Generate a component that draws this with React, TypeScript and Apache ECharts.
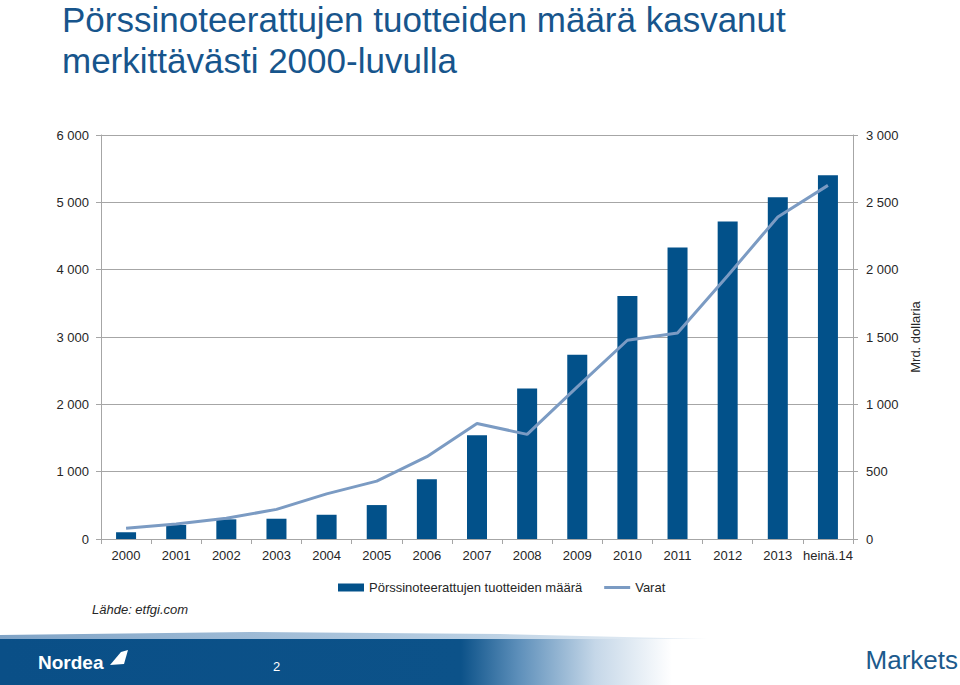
import React, { useEffect, useRef } from "react";
import * as echarts from "echarts";

const categories = ["2000", "2001", "2002", "2003", "2004", "2005", "2006", "2007", "2008", "2009", "2010", "2011", "2012", "2013", "heinä.14"];
const productCounts = [100, 208, 292, 301, 360, 504, 886, 1539, 2236, 2735, 3610, 4328, 4714, 5074, 5401];
const assets = [80, 111, 154, 220, 335, 430, 611, 858, 777, 1130, 1476, 1530, 1955, 2391, 2626];
const titleLines = ["Pörssinoteerattujen tuotteiden määrä kasvanut", "merkittävästi 2000-luvulla"];
const seriesNames = ["Pörssinoteerattujen tuotteiden määrä", "Varat"];
const rightAxisName = "Mrd. dollaria";
const sourceText = "Lähde: etfgi.com";

const fmt = (v: number) => String(v).replace(/\B(?=(\d{3})+(?!\d))/g, " ");

export default function App() {
  const ref = useRef<HTMLDivElement>(null);
  useEffect(() => {
    if (!ref.current) return;
    const chart = echarts.init(ref.current, null, { renderer: "svg" });
    const font = "'Liberation Sans', Arial, sans-serif";
    const labelColor = "#262626";
    const gridColor = "#a6a6a6";
    chart.setOption({
      animation: false,
      textStyle: { fontFamily: font },
      grid: { left: 101, right: 107, top: 135, bottom: 146, containLabel: false },
      legend: {
        left: 333,
        top: 576,
        itemWidth: 26,
        itemHeight: 8,
        itemGap: 22,
        textStyle: { fontSize: 13, color: labelColor, fontFamily: font },
        data: [
          { name: seriesNames[0], icon: "rect" },
          { name: seriesNames[1], icon: "path://M0 0H26V3H0Z" },
        ],
      },
      xAxis: {
        type: "category",
        data: categories,
        axisLine: { show: true, lineStyle: { color: gridColor } },
        axisTick: { show: true, length: 5, lineStyle: { color: gridColor } },
        axisLabel: { color: labelColor, fontSize: 13, margin: 10, interval: 0 },
      },
      yAxis: [
        {
          type: "value",
          min: 0,
          max: 6000,
          interval: 1000,
          axisLine: { show: true, lineStyle: { color: gridColor } },
          axisTick: { show: true, length: 5, lineStyle: { color: gridColor } },
          axisLabel: { color: labelColor, fontSize: 13, margin: 12, formatter: fmt },
          splitLine: { show: true, lineStyle: { color: gridColor, width: 1 } },
        },
        {
          type: "value",
          min: 0,
          max: 3000,
          interval: 500,
          position: "right",
          axisLine: { show: true, lineStyle: { color: gridColor } },
          axisTick: { show: true, length: 5, lineStyle: { color: gridColor } },
          axisLabel: { color: labelColor, fontSize: 13, margin: 13, formatter: fmt },
          splitLine: { show: false },
          name: rightAxisName,
          nameLocation: "middle",
          nameRotate: 90,
          nameGap: 48,
          nameTextStyle: { color: labelColor, fontSize: 13 },
        },
      ],
      series: [
        {
          name: seriesNames[0],
          type: "bar",
          data: productCounts,
          yAxisIndex: 0,
          barWidth: 20,
          itemStyle: { color: "#02518a" },
        },
        {
          name: seriesNames[1],
          type: "line",
          data: assets,
          yAxisIndex: 1,
          symbol: "none",
          lineStyle: { color: "#7b9bc3", width: 3 },
          itemStyle: { color: "#7b9bc3" },
        },
      ],
      graphic: [
        {
          type: "text",
          left: 62,
          top: 2,
          style: { text: titleLines[0], fill: "#17558c", font: `35px ${font}` },
        },
        {
          type: "text",
          left: 62,
          top: 43,
          style: { text: titleLines[1], fill: "#17558c", font: `35px ${font}` },
        },
        {
          type: "text",
          left: 92,
          top: 603,
          style: { text: sourceText, fill: labelColor, font: `italic 13px ${font}` },
        },
        {
          type: "polygon",
          shape: { points: [[0, 635], [250, 632], [500, 634], [750, 640], [960, 648], [960, 652], [0, 641]] },
          style: {
            fill: new echarts.graphic.LinearGradient(0, 0, 1, 0, [
              { offset: 0, color: "#7fa3c6" },
              { offset: 0.5, color: "#b9cfe3" },
              { offset: 1, color: "rgba(255,255,255,0)" },
            ]),
          },
          silent: true,
        },
        {
          type: "rect",
          shape: { x: 0, y: 639, width: 960, height: 46 },
          style: {
            fill: new echarts.graphic.LinearGradient(0, 0, 1, 0, [
              { offset: 0, color: "#0a4f87" },
              { offset: 0.48, color: "#0c5289" },
              { offset: 0.54, color: "#5d8fba" },
              { offset: 0.62, color: "#c5d7e8" },
              { offset: 0.7, color: "#ffffff" },
              { offset: 1, color: "#ffffff" },
            ]),
          },
          silent: true,
        },
        {
          type: "text",
          left: 38,
          top: 653,
          style: { text: "Nordea", fill: "#ffffff", font: `bold 19px ${font}` },
        },
        {
          type: "polygon",
          shape: { points: [[110, 665], [121, 652], [128, 650], [124, 664]] },
          style: { fill: "#ffffff" },
        },
        {
          type: "text",
          left: 273,
          top: 660,
          style: { text: "2", fill: "#ffffff", font: `13px ${font}` },
        },
        {
          type: "text",
          right: 2,
          top: 647,
          style: { text: "Markets", fill: "#1c5a8c", font: `26px ${font}` },
        },
      ],
    });
    return () => chart.dispose();
  }, []);
  return (
    <div
      ref={ref}
      style={{ position: "fixed", left: 0, top: 0, width: 960, height: 685, background: "#fff" }}
    />
  );
}
